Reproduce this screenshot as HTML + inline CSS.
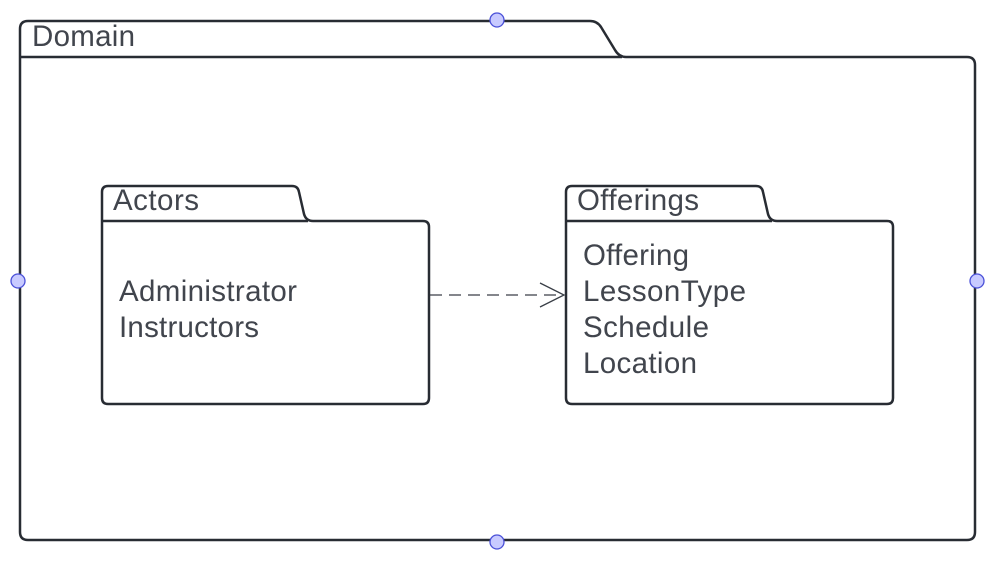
<!DOCTYPE html>
<html><head><style>body{margin:0;background:#fff}svg{display:block}</style></head><body>
<svg width="999" height="564" xmlns="http://www.w3.org/2000/svg" font-family="Liberation Sans, sans-serif" fill="none">
<g stroke="#282c33" stroke-width="2.5" stroke-linejoin="round">
<path d="M20 57 V29 Q20 21 28 21 H590 Q597 21 601 27 L615 50 Q619 57 626 57 H967 Q975 57 975 65 V532 Q975 540 967 540 H28 Q20 540 20 532 Z"/>
<path d="M20 57 H622"/>
<path d="M102 221 V192 Q102 186 108 186 H292 Q298 186 299 192 L304 214 Q306 221 313 221 H423 Q429 221 429 227 V398 Q429 404 423 404 H108 Q102 404 102 398 Z"/>
<path d="M102 221 H308"/>
<path d="M566 221 V192 Q566 186 572 186 H756 Q762 186 763 192 L768 214 Q770 221 777 221 H887 Q893 221 893 227 V398 Q893 404 887 404 H572 Q566 404 566 398 Z"/>
<path d="M566 221 H772"/>
</g>
<g stroke="#3a3f47" stroke-width="1.3">
<path d="M430 295 H563" stroke-dasharray="12 7"/>
<path d="M540 283 L564 295 L540 307"/>
</g>
<g fill="#41454d" font-size="29.5">
<text x="32" y="46" textLength="103">Domain</text>
<text x="113" y="210" textLength="86">Actors</text>
<text x="577" y="210" textLength="122">Offerings</text>
<text x="119" y="301" textLength="178">Administrator</text>
<text x="119" y="337" textLength="140">Instructors</text>
<text x="583" y="265" textLength="106">Offering</text>
<text x="583" y="301" textLength="163">LessonType</text>
<text x="583" y="337" textLength="126">Schedule</text>
<text x="583" y="373" textLength="114">Location</text>
</g>
<g fill="#c8caff" stroke="#4a50d8" stroke-width="1.3">
<circle cx="497" cy="20" r="7"/><circle cx="18" cy="281" r="7"/><circle cx="977" cy="281" r="7"/><circle cx="497" cy="542" r="7"/>
</g>
</svg>
</body></html>
